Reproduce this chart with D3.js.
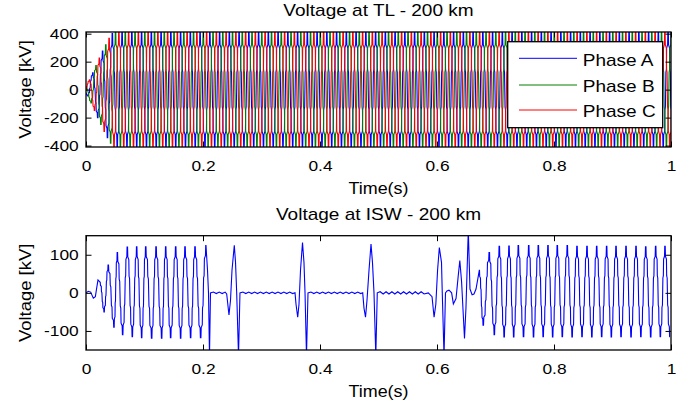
<!DOCTYPE html>
<html>
<head>
<meta charset="utf-8">
<script src="https://cdn.jsdelivr.net/npm/d3@7"></script>
<style>
  body { margin: 0; background: #fff; }
  svg { font-family: "Liberation Sans", Arial, sans-serif; }
</style>
</head>
<body>
<div id="plot"></div>
<script>
// ---- data ----
const xTicks = [0, 0.2, 0.4, 0.6, 0.8, 1];
const tlTicks = [-400, -200, 0, 200, 400];
const iswTicks = [-100, 0, 100];
const phases = ["Phase A", "Phase B", "Phase C"];
const phaseColors = ["#0000ff", "#008000", "#ff0000"];

// top plot: 60 Hz, time of the first positive peak of each phase (s)
const tlFreq = 60;
const tlPeakTime = [0.0117, 0.0005, 0.0062];
// amplitude envelope of the three phases [t, kV]
const tlEnvelope = [[0, 15], [0.01, 105], [0.02, 200], [0.03, 290], [0.04, 370], [0.047, 412], [1, 412]];

// one half cycle of the stepped wave: [fraction of half period, level 1 -> -1]
const halfShape = [[0, 1], [0.05, 1], [0.1, 0.78], [0.3, 0.72], [0.35, 0.35], [0.45, 0.3], [0.5, 0],
  [0.55, -0.3], [0.65, -0.35], [0.7, -0.72], [0.9, -0.78], [0.95, -1], [1, -1]];

// bottom plot: swing extremes [t, kV]
const iswSwingsEarly = [[0.024, 28], [0.031, -50], [0.038, 73], [0.0479, -90], [0.0535, 106], [0.0627, -110],
  [0.0706, 120], [0.0792, -115], [0.0866, 121], [0.0952, -118], [0.102, 121], [0.1123, -119], [0.1197, 121],
  [0.1294, -119], [0.1362, 121], [0.1447, -118], [0.1533, 121], [0.1618, -119], [0.1692, 121], [0.1789, -118],
  [0.1863, 121], [0.196, -118], [0.2051, 124]];
const iswSwingsLate = [[0.6723, 59], [0.679, -85], [0.6894, 106], [0.698, -110], [0.7065, 122], [0.7148, -116],
  [0.7231, 123], [0.7311, -116], [0.739, 124], [0.7479, -115], [0.7568, 124], [0.765, -116], [0.7732, 124],
  [0.7815, -115], [0.7897, 124], [0.7977, -116], [0.8056, 124], [0.8142, -115], [0.8227, 124], [0.831, -116],
  [0.8393, 122], [0.8479, -115], [0.8564, 122], [0.8647, -116], [0.873, 122], [0.8815, -115], [0.89, 122],
  [0.898, -116], [0.906, 122], [0.9146, -115], [0.9231, 122], [0.9317, -116], [0.9402, 122], [0.9485, -115],
  [0.9568, 121], [0.9653, -116], [0.9738, 122], [0.9818, -115], [0.9897, 122], [0.998, -115]];
// transients drawn point to point [t, kV]
const iswPoints = [[0, 0], [0.004, 4], [0.008, 2], [0.0125, -14], [0.016, -10], [0.0185, 15], [0.0205, 34], [0.024, 28],
  [0.2077, 60], [0.2094, 0], [0.2111, -165], [0.2128, 0],
  [0.2405, -3], [0.2444, -58], [0.247, -20], [0.2496, 60], [0.2535, 125], [0.2556, 80], [0.2576, 0], [0.2607, -165], [0.2632, 0],
  [0.3573, 0], [0.359, -30], [0.3619, -64], [0.3641, -30], [0.3667, 60], [0.3701, 132], [0.3726, 80], [0.3744, 0], [0.3769, -165], [0.3795, 0],
  [0.473, 0], [0.4752, -40], [0.4778, -64], [0.4803, -20], [0.4838, 60], [0.4872, 128], [0.4897, 80], [0.4923, 0], [0.4954, -165], [0.4979, 0],
  [0.5851, 0], [0.5915, -10], [0.595, -64], [0.598, -30], [0.601, 60], [0.604, 119], [0.6077, 80], [0.609, 0], [0.612, -165],
  [0.6145, 0], [0.617, 5], [0.6205, 7], [0.625, 0], [0.628, -29], [0.6325, -15], [0.636, 40], [0.639, 85], [0.642, 30],
  [0.647, -120], [0.6495, -40], [0.6535, 165], [0.6564, 10], [0.66, -5], [0.6632, -3], [0.6667, 10], [0.6723, 59]];
// quiet stretches with small ripple [start, end, ripple kV]
const iswQuiet = [[0.2128, 0.2405, 2], [0.2632, 0.3573, 2], [0.3795, 0.473, 2], [0.4979, 0.5851, 3]];
const rippleHalfPeriod = 0.005;

// ---- layout ----
const width = 689, height = 404;
const SX = 1.12; // text in the picture is a little wider than Arial
const plotLeft = 86, plotRight = 671;
const top1 = 32, bot1 = 147, top2 = 235.7, bot2 = 350;

const svg = d3.select("#plot").append("svg")
  .attr("width", width).attr("height", height);

const x = d3.scaleLinear().domain([0, 1]).range([plotLeft, plotRight]);
const y1 = d3.scaleLinear().domain([-410, 412]).range([bot1, top1]);
const y2 = d3.scaleLinear().domain([-150, 150]).range([bot2, top2]);

function stepped(swings) {
  const pts = [];
  for (let i = 0; i < swings.length - 1; i++) {
    const [t0, v0] = swings[i], [t1, v1] = swings[i + 1];
    const mid = (v0 + v1) / 2, half = (v0 - v1) / 2;
    halfShape.forEach(([u, s], j) => {
      if (i > 0 && j === 0) return;
      pts.push([t0 + u * (t1 - t0), mid + s * half]);
    });
  }
  return pts;
}

const env = d3.scaleLinear().domain(tlEnvelope.map(d => d[0])).range(tlEnvelope.map(d => d[1])).clamp(true);

function phaseSeries(peak0) {
  const halfT = 1 / tlFreq / 2;
  const swings = [];
  for (let k = -2; peak0 + k * halfT <= 1.02; k++) {
    const t = peak0 + k * halfT;
    swings.push([t, (k % 2 === 0 ? 1 : -1) * env(Math.max(t, 0))]);
  }
  return stepped(swings);
}

function rippleSeries([a, b, amp]) {
  const pts = [];
  let sign = 1;
  for (let t = a + rippleHalfPeriod; t < b - rippleHalfPeriod / 2; t += rippleHalfPeriod) {
    pts.push([t, sign * amp]);
    sign = -sign;
  }
  return pts;
}

const iswSeries = [].concat(iswPoints, stepped(iswSwingsEarly), stepped(iswSwingsLate),
  ...iswQuiet.map(rippleSeries)).sort((a, b) => a[0] - b[0]);

function addText(g, txt, tx, ty, size, anchor, rot) {
  return g.append("text")
    .attr("transform", `translate(${tx},${ty})` + (rot ? ` rotate(${rot})` : "") + ` scale(${SX},1)`)
    .attr("text-anchor", anchor)
    .style("font-size", size + "px")
    .attr("fill", "#000")
    .text(txt);
}

function drawPanel(y, top, bot, yTicks, series, colors, title, id) {
  const g = svg.append("g");

  g.append("clipPath").attr("id", id)
    .append("rect").attr("x", plotLeft).attr("y", top)
    .attr("width", plotRight - plotLeft).attr("height", bot - top);

  const line = d3.line().x(d => x(d[0])).y(d => y(d[1]));
  const lines = g.append("g").attr("clip-path", `url(#${id})`);
  series.forEach((s, i) => {
    lines.append("path").attr("d", line(s))
      .attr("fill", "none").attr("stroke", colors[i]).attr("stroke-width", 1.1);
  });

  // axes, ticks pointing inward
  const tick = 5.5;
  const axB = g.append("g").attr("transform", `translate(0,${bot})`)
    .call(d3.axisBottom(x).tickValues(xTicks).tickFormat(d => String(d)).tickSizeInner(-tick).tickSizeOuter(0).tickPadding(13));
  const axT = g.append("g").attr("transform", `translate(0,${top})`)
    .call(d3.axisTop(x).tickValues(xTicks).tickFormat("").tickSizeInner(-tick).tickSizeOuter(0));
  const axL = g.append("g").attr("transform", `translate(${plotLeft},0)`)
    .call(d3.axisLeft(y).tickValues(yTicks).tickFormat(d => String(d)).tickSizeInner(-tick).tickSizeOuter(0).tickPadding(6.5));
  const axR = g.append("g").attr("transform", `translate(${plotRight},0)`)
    .call(d3.axisRight(y).tickValues(yTicks).tickFormat("").tickSizeInner(-tick).tickSizeOuter(0));
  [axB, axT, axL, axR].forEach(a => {
    a.attr("font-family", null).attr("font-size", null);
    a.select(".domain").remove();
    a.selectAll("line").attr("stroke", "#000");
    a.selectAll("text").attr("fill", "#000").style("font-size", "15.5px").attr("transform", `scale(${SX},1)`);
  });

  g.append("rect").attr("x", plotLeft).attr("y", top)
    .attr("width", plotRight - plotLeft).attr("height", bot - top)
    .attr("fill", "none").attr("stroke", "#000").attr("stroke-width", 1.3);

  const cx = (plotLeft + plotRight) / 2;
  addText(g, title, cx, top - 16, 17, "middle");
  addText(g, "Time(s)", cx, bot + 46.7, 16, "middle");
  addText(g, "Voltage [kV]", 31, (top + bot) / 2, 16.5, "middle", -90);
  return g;
}

const topPanel = drawPanel(y1, top1, bot1, tlTicks, tlPeakTime.map(phaseSeries), phaseColors,
  "Voltage at TL - 200 km", "clip-tl");
drawPanel(y2, top2, bot2, iswTicks, [iswSeries], ["#0000ff"], "Voltage at ISW - 200 km", "clip-isw");

// legend
const legend = topPanel.append("g");
legend.append("rect").attr("x", 507.7).attr("y", 41.7).attr("width", 155).attr("height", 86)
  .attr("fill", "#fff").attr("stroke", "#000").attr("stroke-width", 1.3);
const legendY = [58.3, 85, 110];
phases.forEach((p, i) => {
  legend.append("line").attr("x1", 519).attr("x2", 577).attr("y1", legendY[i]).attr("y2", legendY[i])
    .attr("stroke", phaseColors[i]).attr("stroke-width", 1);
  addText(legend, p, 582.7, legendY[i] + 7.3, 17, "start");
});
</script>
</body>
</html>
